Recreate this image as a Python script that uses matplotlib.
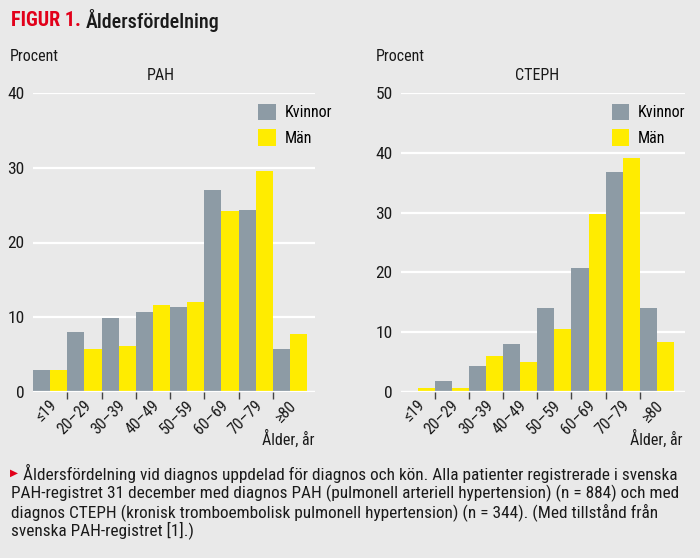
import matplotlib
matplotlib.use("Agg")
import matplotlib.pyplot as plt
import numpy as np

categories = ["≤19", "20–29", "30–39", "40–49", "50–59", "60–69", "70–79", "≥80"]
pah_kvinnor = [2.9, 8.0, 9.9, 10.7, 11.4, 27.0, 24.4, 5.7]
pah_man = [3.0, 5.7, 6.1, 11.7, 12.1, 24.2, 29.5, 7.8]
cteph_kvinnor = [0.0, 1.8, 4.3, 8.0, 14.1, 20.7, 36.8, 14.1]
cteph_man = [0.7, 0.7, 6.0, 5.0, 10.5, 29.8, 39.1, 8.3]
pah_yticks = [0, 10, 20, 30, 40]
cteph_yticks = [0, 10, 20, 30, 40, 50]

BG = "#e9e9e9"
GRAY = "#8d9ba5"
YELLOW = "#ffec00"
RED = "#e2001a"
TXT = "#1a1a1a"
FONT = ["Roboto Condensed", "Roboto", "DejaVu Sans"]
plt.rcParams["font.family"] = FONT

W, H = 700, 558
fig = plt.figure(figsize=(W / 100, H / 100), dpi=100, facecolor=BG)
fig.canvas.draw()
R = fig.canvas.get_renderer()


def fx(px):
    return px / W


def fy(py):
    return 1 - py / H


def fit(t, target_px, start):
    """shrink font until the text is at most target_px wide"""
    fs = start
    t.set_fontsize(fs)
    while t.get_window_extent(renderer=R).width > target_px and fs > 5:
        fs -= 0.1
        t.set_fontsize(fs)
    return fs


def panel(rect, xmax, kv, man, yticks, title, title_x, leg_x):
    ax = fig.add_axes(rect)
    ax.set_facecolor(BG)
    x = np.arange(len(categories))
    w = 0.5
    ax.bar(x - w / 2, kv, width=w, color=GRAY, label="Kvinnor", zorder=3)
    ax.bar(x + w / 2, man, width=w, color=YELLOW, label="Män", zorder=3)
    ax.set_xlim(-0.5, xmax)
    ax.set_ylim(0, yticks[-1])
    ax.set_yticks(yticks)
    ax.grid(axis="y", color="white", lw=1.6, zorder=1)
    ax.axhline(0, color="white", lw=1.6, zorder=4)
    for s in ax.spines.values():
        s.set_visible(False)
    ax.tick_params(axis="y", length=0, pad=6, labelsize=12.5, labelcolor=TXT)
    ax.set_xticks(x + 0.12)
    ax.set_xticklabels(categories, rotation=45, ha="right", va="center",
                       rotation_mode="anchor", fontsize=11.5, color=TXT)
    ax.tick_params(axis="x", which="major", length=0, pad=8)
    ax.set_xticks(x[:-1] + 0.5, minor=True)
    ax.tick_params(axis="x", which="minor", length=5, width=1, color="#444444")
    ax.legend(loc="upper left", bbox_to_anchor=(leg_x, 0.985), frameon=False,
              handlelength=1.1, handleheight=1.2, handletextpad=0.55,
              labelspacing=0.55, borderaxespad=0, fontsize=11.5)
    fig.text(fx(title_x), fy(75), title, ha="center", va="center",
             fontsize=11.5, color=TXT)
    return ax


ax1 = panel([fx(33), fy(392), fx(315 - 33), (392 - 93) / H], 7.73,
            pah_kvinnor, pah_man, pah_yticks, "PAH", 161, 0.775)
ax2 = panel([fx(401), fy(392), fx(685 - 401), (392 - 93) / H], 7.83,
            cteph_kvinnor, cteph_man, cteph_yticks, "CTEPH", 537, 0.72)

fig.text(fx(10), fy(56), "Procent", fontsize=11.5, color=TXT, va="center")
fig.text(fx(376), fy(56), "Procent", fontsize=11.5, color=TXT, va="center")
fig.text(fx(314), fy(439), "Ålder, år", fontsize=11.5, color=TXT,
         va="center", ha="right")
fig.text(fx(683), fy(439), "Ålder, år", fontsize=11.5, color=TXT,
         va="center", ha="right")

# Title
t1 = fig.text(fx(11), fy(20), "FIGUR 1.", fontsize=14.5, color=RED,
              fontweight="bold", va="center")
bb = t1.get_window_extent(renderer=R)
t2 = fig.text((bb.x1 + 5) / W, fy(20), "Åldersfördelning", fontsize=16,
              color=TXT, va="center", fontweight="medium")
fit(t2, 220 - (bb.x1 + 5), 17)

# Caption
fig.text(fx(10), fy(473), "▶", fontsize=7.5, color=RED, va="center",
         family=["DejaVu Sans"])
lines = [
    "Åldersfördelning vid diagnos uppdelad för diagnos och kön. Alla patienter registrerade i svenska",
    "PAH-registret 31 december med diagnos PAH (pulmonell arteriell hypertension) (n = 884) och med",
    "diagnos CTEPH (kronisk tromboembolisk pulmonell hypertension) (n = 344). (Med tillstånd från",
    "svenska PAH-registret [1].)",
]
ys = [473, 493, 512, 530]
xs = [23, 11, 11, 11]
caps = []
for s, yy, xx in zip(lines, ys, xs):
    caps.append(fig.text(fx(xx), fy(yy), s, fontsize=12.5, color=TXT,
                         va="center"))
fs = fit(caps[0], 680 - 23, 13.5)
for c in caps[1:]:
    c.set_fontsize(fs)

fig.savefig("out.png", dpi=100, facecolor=BG)
